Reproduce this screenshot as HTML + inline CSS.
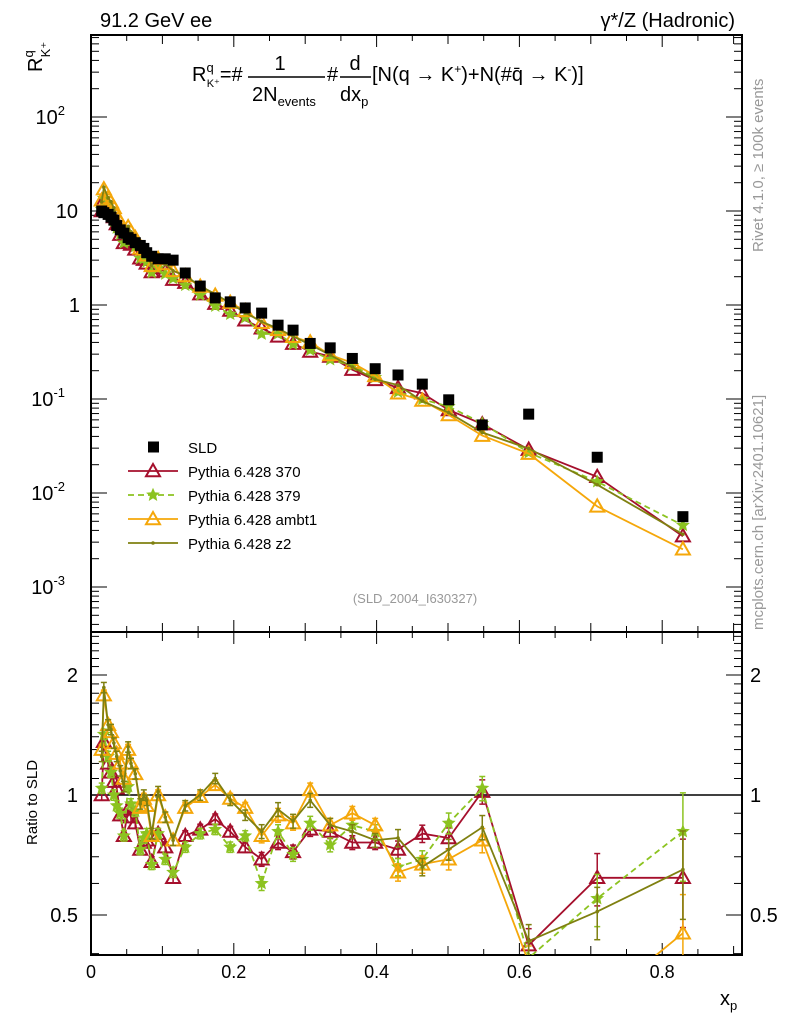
<!DOCTYPE html>
<html><head><meta charset="utf-8"><style>
html,body{margin:0;padding:0;background:#fff}
svg{display:block;font-family:"Liberation Sans",sans-serif}
</style></head><body>
<svg id="chart" width="786" height="1024" viewBox="0 0 786 1024" xmlns="http://www.w3.org/2000/svg">
<text x="100" y="27" font-size="20">91.2 GeV ee</text>
<text x="735" y="27" font-size="20" text-anchor="end">γ*/Z (Hadronic)</text>
<text transform="translate(42,72) rotate(-90)" font-size="20">R<tspan font-size="13" dy="-9">q</tspan><tspan font-size="13" dx="-7" dy="17">K⁺</tspan></text>
<g font-size="20">
<text x="192" y="81">R<tspan font-size="13" dy="-9">q</tspan><tspan font-size="11" dx="-7" dy="15">K⁺</tspan><tspan dy="-6">=#</tspan></text>
<text x="280" y="70" text-anchor="middle">1</text>
<line x1="248" y1="77" x2="325" y2="77" stroke="#000" stroke-width="1.5"/>
<text x="252" y="101">2N<tspan font-size="13" dy="5">events</tspan></text>
<text x="327" y="81">#</text>
<text x="355" y="70" text-anchor="middle">d</text>
<line x1="340" y1="77" x2="371" y2="77" stroke="#000" stroke-width="1.5"/>
<text x="340" y="101">dx<tspan font-size="13" dy="5">p</tspan></text>
<text x="372" y="81">[N(q → K<tspan font-size="12" dy="-8">+</tspan><tspan dy="8">)+N(#q̄ → K</tspan><tspan font-size="12" dy="-8">-</tspan><tspan dy="8">)]</tspan></text>
</g>
<text transform="translate(763,252) rotate(-90)" font-size="15" fill="#999">Rivet 4.1.0, ≥ 100k events</text>
<text transform="translate(763,630) rotate(-90)" font-size="15" fill="#999">mcplots.cern.ch [arXiv:2401.10621]</text>
<text x="415" y="603" font-size="13" fill="#999" text-anchor="middle">(SLD_2004_I630327)</text>
<text transform="translate(37,845) rotate(-90)" font-size="15">Ratio to SLD</text>
<text x="720" y="1005" font-size="20">x<tspan font-size="13" dy="5">p</tspan></text>
<g id="axes"></g>
<g id="marks"></g>
<g id="legend"></g>
</svg>
<script>
const xVals=[0.015,0.018,0.024,0.028,0.032,0.036,0.041,0.046,0.052,0.056,0.062,0.069,0.074,0.078,0.085,0.094,0.104,0.115,0.132,0.153,0.174,0.195,0.216,0.239,0.262,0.283,0.307,0.335,0.366,0.398,0.430,0.464,0.501,0.548,0.613,0.709,0.829];
const sldVals=[10.0,9.6,9.2,8.6,8.0,7.0,6.3,5.8,5.2,5.0,4.6,4.3,4.0,3.6,3.3,3.1,3.1,3.0,2.19,1.59,1.19,1.08,0.93,0.82,0.61,0.54,0.39,0.35,0.27,0.21,0.18,0.144,0.098,0.053,0.069,0.024,0.0056];
const ratio370=[1.0,1.36,1.2,1.14,1.08,1.04,0.89,0.79,0.92,0.88,0.85,0.73,0.76,0.77,0.68,0.8,0.74,0.62,0.79,0.82,0.87,0.81,0.74,0.69,0.76,0.72,0.82,0.81,0.76,0.76,0.73,0.80,0.78,1.02,0.42,0.62,0.62];
const ratio379=[1.04,1.42,1.25,1.14,1.0,0.94,0.9,0.79,1.05,0.95,0.91,0.73,0.78,0.8,0.67,0.8,0.69,0.64,0.74,0.80,0.82,0.74,0.79,0.60,0.81,0.71,0.85,0.75,0.84,0.81,0.66,0.69,0.85,1.04,0.39,0.55,0.81];
const ratioAmbt1=[1.30,1.78,1.5,1.44,1.35,1.27,1.2,1.1,1.30,1.2,1.13,0.93,0.98,0.94,0.79,1.0,0.88,0.77,0.93,0.99,1.06,0.98,0.93,0.79,0.89,0.85,1.03,0.84,0.90,0.84,0.64,0.67,0.69,0.77,0.38,0.30,0.45];
const ratioZ2=[1.25,1.86,1.5,1.46,1.35,1.25,1.15,1.05,1.32,1.2,1.13,0.95,1.0,0.97,0.80,1.02,0.88,0.77,0.94,1.0,1.1,0.97,0.89,0.81,0.92,0.86,0.97,0.84,0.81,0.77,0.78,0.66,0.73,0.83,0.43,0.51,0.65];
const errFrac=[0.03,0.03,0.03,0.03,0.03,0.03,0.03,0.03,0.03,0.03,0.03,0.03,0.03,0.03,0.03,0.03,0.03,0.03,0.03,0.03,0.03,0.03,0.03,0.04,0.04,0.04,0.04,0.04,0.04,0.04,0.05,0.05,0.06,0.07,0.1,0.15,0.25];
const xTicks=[0,0.2,0.4,0.6,0.8];
const xTickLabels=["0","0.2","0.4","0.6","0.8"];
const yDecades=[-3,-2,-1,0,1,2];
const yDecadeLabels=["10","10","10","1","10","10"];
const yDecadeExp=["-3","-2","-1","","","2"];
const ratioTicks=[0.5,1,2];
const ratioTickLabels=["0.5","1","2"];
const seriesNames=["Pythia 6.428 370","Pythia 6.428 379","Pythia 6.428 ambt1","Pythia 6.428 z2"];

const NS="http://www.w3.org/2000/svg";
const L=91,R=742,T1=35,B1=632,T2=632,B2=955;
const X=v=>L+714*v;
const Y=v=>305-94*Math.log10(v);
const YR=r=>795-120*Math.log2(r);
function mk(tag,attrs,parent){const e=document.createElementNS(NS,tag);for(const k in attrs)e.setAttribute(k,attrs[k]);parent.appendChild(e);return e;}
const axes=document.getElementById('axes'),marks=document.getElementById('marks'),leg=document.getElementById('legend');
const defs=mk('defs',{},axes);
const c1=mk('clipPath',{id:'c1'},defs);mk('rect',{x:L,y:T1,width:R-L,height:B1-T1},c1);
const c2=mk('clipPath',{id:'c2'},defs);mk('rect',{x:L,y:T2,width:R-L,height:B2-T2},c2);
const f1=mk('rect',{x:L,y:T1,width:R-L,height:B1-T1,fill:'none',stroke:'#000','stroke-width':2},axes);


const f2=mk('rect',{x:L,y:T2,width:R-L,height:B2-T2,fill:'none',stroke:'#000','stroke-width':2},axes);


for(let i=0;i<=18;i++){const v=i*0.05,px=X(v);if(px>R)break;const len=(i%4===0)?12:(i%2===0?9:6);
 for(const [t,b] of [[T1,B1],[T2,B2]]){mk('line',{x1:px,x2:px,y1:b,y2:b-len,stroke:'#000','stroke-width':1},axes);mk('line',{x1:px,x2:px,y1:t,y2:t+len,stroke:'#000','stroke-width':1},axes);}}
xTicks.forEach((v,i)=>{const t=mk('text',{x:X(v),y:978,'font-size':18,'text-anchor':'middle'},axes);t.textContent=xTickLabels[i];
 
 });
for(let d=-4;d<=2;d++){for(let m=1;m<10;m++){const v=m*Math.pow(10,d),py=Y(v);if(py<T1||py>B1)continue;const len=m===1?16:8;
 mk('line',{x1:L,x2:L+len,y1:py,y2:py,stroke:'#000'},axes);mk('line',{x1:R,x2:R-len,y1:py,y2:py,stroke:'#000'},axes);}}
yDecades.forEach((d,i)=>{const t=mk('text',{x:d===0?80:78,y:Y(Math.pow(10,d))+7,'font-size':20,'text-anchor':'end'},axes);
 
 
 if(yDecadeExp[i]){t.setAttribute('x',65);t.textContent=yDecadeLabels[i];const s=mk('tspan',{'font-size':13,dy:-9},t);s.textContent=yDecadeExp[i];}else t.textContent=yDecadeLabels[i];});
for(let r=0.4;r<=2.6;r+=0.1){const py=YR(r);if(py<T2||py>B2)continue;const maj=Math.abs(r-0.5)<1e-6||Math.abs(r-1)<1e-6||Math.abs(r-2)<1e-6;const len=maj?16:8;
 mk('line',{x1:L,x2:L+len,y1:py,y2:py,stroke:'#000'},axes);mk('line',{x1:R,x2:R-len,y1:py,y2:py,stroke:'#000'},axes);}
ratioTicks.forEach((r,i)=>{for(const [x,a] of [[78,'end'],[750,'start']]){const t=mk('text',{x:x,y:YR(r)+7,'font-size':20,'text-anchor':a},axes);t.textContent=ratioTickLabels[i];
 
 }});
const one=mk('line',{x1:L,x2:R,y1:YR(1),y2:YR(1),stroke:'#000','stroke-width':1.5},axes);



const styles=[
 {c:'#a50f2c',dash:'',m:'tri',name:'series-370'},
 {c:'#8cc320',dash:'6,4',m:'star',name:'series-379'},
 {c:'#f5a70a',dash:'',m:'tri',name:'series-ambt1'},
 {c:'#7f8010',dash:'',m:'dot',name:'series-z2'}];
const ratios=[ratio370,ratio379,ratioAmbt1,ratioZ2];
function marker(g,m,x,y,c,s){
 if(m==='tri'){s=s||7;mk('polygon',{points:`${x},${y-s} ${x-s},${y+s*0.75} ${x+s},${y+s*0.75}`,fill:'none',stroke:c,'stroke-width':2},g);}
 else if(m==='star'){s=s||6;let p=[];for(let k=0;k<10;k++){const a=-Math.PI/2+k*Math.PI/5,rr=k%2?s*0.45:s;p.push((x+rr*Math.cos(a)).toFixed(1)+','+(y+rr*Math.sin(a)).toFixed(1));}mk('polygon',{points:p.join(' '),fill:c,stroke:c},g);}
 else {mk('circle',{cx:x,cy:y,r:1.8,fill:c},g);}
}
ratios.forEach((rs,si)=>{const st=styles[si];
 const gm=mk('g',{'clip-path':'url(#c1)'},marks);
 
 
 const pts=xVals.map((x,i)=>X(x).toFixed(1)+','+Y(sldVals[i]*rs[i]).toFixed(1)).join(' ');
 mk('polyline',{points:pts,fill:'none',stroke:st.c,'stroke-width':1.8,'stroke-dasharray':st.dash},gm);
 xVals.forEach((x,i)=>marker(gm,st.m,X(x),Y(sldVals[i]*rs[i]),st.c));
 const gr=mk('g',{'clip-path':'url(#c2)'},marks);
 
 
 const pr=xVals.map((x,i)=>X(x).toFixed(1)+','+YR(rs[i]).toFixed(1)).join(' ');
 mk('polyline',{points:pr,fill:'none',stroke:st.c,'stroke-width':1.8,'stroke-dasharray':st.dash},gr);
 xVals.forEach((x,i)=>{const px=X(x),e=errFrac[i];const y1=YR(rs[i]*(1+e)),y2=YR(rs[i]*(1-e));
  mk('line',{x1:px,x2:px,y1:y1,y2:y2,stroke:st.c,'stroke-width':1.5},gr);
  mk('line',{x1:px-3,x2:px+3,y1:y1,y2:y1,stroke:st.c,'stroke-width':1.5},gr);
  mk('line',{x1:px-3,x2:px+3,y1:y2,y2:y2,stroke:st.c,'stroke-width':1.5},gr);
  marker(gr,st.m,px,YR(rs[i]),st.c);});
});
const gs=mk('g',{},marks);


xVals.forEach((x,i)=>{mk('rect',{x:X(x)-5.5,y:Y(sldVals[i])-5.5,width:11,height:11,fill:'#000'},gs);});
const ly0=447,ld=24;
mk('rect',{x:148,y:ly0-5.5,width:11,height:11,fill:'#000'},leg);
let t=mk('text',{x:188,y:ly0+6,'font-size':15},leg);t.textContent='SLD';
styles.forEach((st,i)=>{const y=ly0+ld*(i+1);
 const g=mk('g',{},leg);
 
 
 mk('line',{x1:128,x2:178,y1:y,y2:y,stroke:st.c,'stroke-width':1.8,'stroke-dasharray':st.dash},g);
 marker(g,st.m,153,y,st.c);
 const tt=mk('text',{x:188,y:y+6,'font-size':15},g);tt.textContent=seriesNames[i];});
</script>
</body></html>
